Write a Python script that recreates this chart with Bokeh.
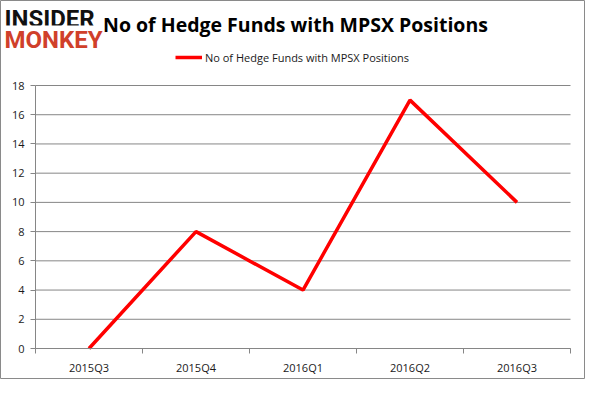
from bokeh.plotting import figure
from bokeh.models import FixedTicker, Label, Legend, LegendItem, ColumnDataSource, Range1d
from bokeh.embed import file_html
from bokeh.resources import INLINE

categories = ["2015Q3", "2015Q4", "2016Q1", "2016Q2", "2016Q3"]
values = [0, 8, 4, 17, 10]
y_ticks = [0, 2, 4, 6, 8, 10, 12, 14, 16, 18]
series_name = "No of Hedge Funds with MPSX Positions"
title_text = "No of Hedge Funds with MPSX Positions"

W, H = 585, 379
# plot-area edges in canvas pixels
PL, PR, PT, PB = 35, 570, 85, 348
GRID = "#868686"
FONT = "Open Sans"
TXT = "#1a1a1a"

n = len(categories)
ymax = y_ticks[-1]
kx = (PR - PL) / n
ky = (PB - PT) / ymax
x_range = Range1d(-PL / kx, n + (W - PR) / kx)
y_range = Range1d(-(H - PB) / ky, ymax + PT / ky)

xs = [i + 0.5 for i in range(n)]
src = ColumnDataSource(dict(x=xs, y=values))
grid_src = ColumnDataSource(dict(y=y_ticks, x0=[0] * len(y_ticks), x1=[n] * len(y_ticks)))

p = figure(width=W, height=H, output_backend="svg", toolbar_location=None,
           x_range=x_range, y_range=y_range,
           min_border=0, background_fill_color="white", border_fill_color="white",
           outline_line_color="#8a8a8a", outline_line_width=1)
p.xgrid.grid_line_color = None
p.ygrid.grid_line_color = None

p.segment(x0="x0", x1="x1", y0="y", y1="y", source=grid_src, line_color=GRID, line_width=1)
r = p.line("x", "y", source=src, line_color="#ff0000", line_width=3.5)

# x axis
xa = p.xaxis[0]
xa.fixed_location = 0
xa.bounds = (0, n)
xa.ticker = FixedTicker(ticks=xs, minor_ticks=list(range(n + 1)))
xa.major_label_overrides = {x: c for x, c in zip(xs, categories)}
xa.major_tick_line_color = None
xa.major_tick_out = 5
xa.major_tick_in = 0
xa.minor_tick_line_color = GRID
xa.minor_tick_out = 5
xa.minor_tick_in = 0
xa.axis_line_color = GRID
xa.major_label_standoff = 6
xa.major_label_text_font = FONT
xa.major_label_text_font_size = "11px"
xa.major_label_text_color = TXT

# y axis
ya = p.yaxis[0]
ya.fixed_location = 0
ya.bounds = (0, ymax)
ya.ticker = FixedTicker(ticks=y_ticks, minor_ticks=[])
ya.axis_line_color = GRID
ya.major_tick_line_color = GRID
ya.major_tick_out = 5
ya.major_tick_in = 0
ya.major_label_standoff = 6
ya.major_label_text_font = FONT
ya.major_label_text_font_size = "11px"
ya.major_label_text_color = TXT

legend = Legend(items=[LegendItem(label=series_name, renderers=[r])],
                location=(175, H - 67), orientation="horizontal",
                border_line_color=None, background_fill_alpha=0,
                label_text_font=FONT, label_text_font_size="11px",
                label_text_color=TXT, glyph_width=27, label_standoff=3,
                padding=0, margin=0)
p.add_layout(legend, "center")

# title
p.add_layout(Label(x=295, y=H - 24, x_units="screen", y_units="screen",
                   text=title_text, text_font=FONT, text_font_style="bold",
                   text_font_size="19.5px", text_align="center", text_baseline="middle",
                   text_color="#000000"))
# logo
p.add_layout(Label(x=4, y=H - 18, x_units="screen", y_units="screen",
                   text="INSIDER", text_font="Roboto", text_font_style="bold",
                   text_font_size="24px", text_baseline="middle", text_color="#111111",
                   background_fill_color="white", padding=0))
p.add_layout(Label(x=4, y=H - 39, x_units="screen", y_units="screen",
                   text="MONKEY", text_font="Roboto", text_font_style="bold",
                   text_font_size="24px", text_baseline="middle", text_color="#d0402a",
                   background_fill_color="white", padding=0))

open("out.html", "w").write(file_html(p, INLINE))
